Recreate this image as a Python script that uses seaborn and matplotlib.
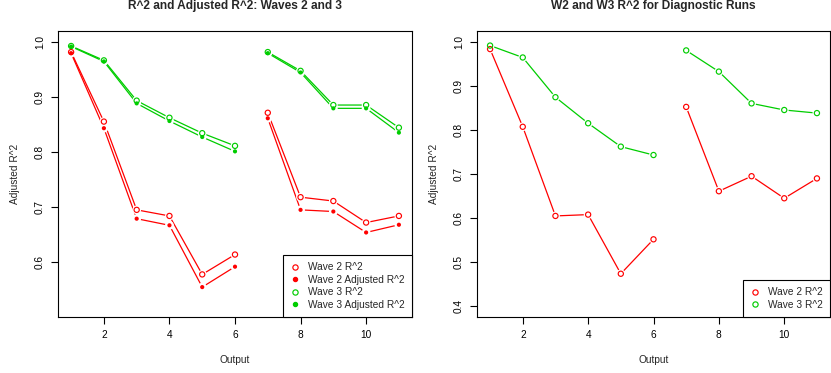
import matplotlib
matplotlib.use("Agg")
import matplotlib.pyplot as plt
import pandas as pd
import seaborn as sns
from matplotlib.lines import Line2D

# Data
outputs = [1, 2, 3, 4, 5, 6, 7, 8, 9, 10, 11]
segments = [1, 1, 1, 1, 1, 1, 2, 2, 2, 2, 2]

# left panel: R^2 and adjusted R^2
w2_r2 = [0.981, 0.855, 0.695, 0.684, 0.578, 0.614, 0.871, 0.718, 0.711, 0.672, 0.684]
w2_adj = [0.979, 0.843, 0.679, 0.667, 0.555, 0.592, 0.861, 0.695, 0.692, 0.654, 0.668]
w3_r2 = [0.992, 0.966, 0.893, 0.862, 0.834, 0.811, 0.981, 0.947, 0.885, 0.885, 0.844]
w3_adj = [0.991, 0.964, 0.888, 0.856, 0.827, 0.801, 0.979, 0.944, 0.879, 0.879, 0.835]

# right panel: diagnostic runs
diag_w2_r2 = [0.983, 0.807, 0.605, 0.608, 0.474, 0.552, 0.852, 0.661, 0.695, 0.645, 0.690]
diag_w3_r2 = [0.991, 0.964, 0.874, 0.815, 0.762, 0.743, 0.980, 0.932, 0.860, 0.845, 0.838]

RED = "#FF0000"
GREEN = "#00CD00"

sns.set_style("white")
plt.rcParams["font.family"] = ["Liberation Sans", "DejaVu Sans"]
plt.rcParams["axes.linewidth"] = 0.8
plt.rcParams["xtick.major.size"] = 5
plt.rcParams["ytick.major.size"] = 5
plt.rcParams["xtick.major.width"] = 0.8
plt.rcParams["ytick.major.width"] = 0.8

FS = 7.3
W, H = 831, 373


def draw_series(ax, values, color):
    df = pd.DataFrame({"output": outputs, "value": values, "segment": segments})
    sns.lineplot(data=df, x="output", y="value", units="segment", estimator=None,
                 color=color, linewidth=0.9, ax=ax, legend=False, zorder=2)
    return df


def draw_halo(ax, df):
    # white halo to mimic R's type="b" gaps
    sns.scatterplot(data=df, x="output", y="value", color="white", s=40,
                    edgecolor="none", ax=ax, legend=False, zorder=3)


def draw_marks(ax, df, color, filled):
    if filled:
        sns.scatterplot(data=df, x="output", y="value", color=color, s=9,
                        edgecolor="none", ax=ax, legend=False, zorder=4)
    else:
        sns.scatterplot(data=df, x="output", y="value", color=color, s=14,
                        facecolor="none", edgecolor=color, linewidth=0.85,
                        ax=ax, legend=False, zorder=4)


def style_axes(ax, ylim, yticks, title, px_width):
    ax.set_xlim(0.6, 11.4)
    ax.set_ylim(*ylim)
    ax.set_xticks([2, 4, 6, 8, 10])
    ax.set_yticks(yticks)
    ax.set_yticklabels([f"{t:.1f}" for t in yticks], rotation=90, va="center")
    ax.tick_params(axis="both", labelsize=FS, colors="black", pad=4.5,
                   direction="out", bottom=True, left=True)
    for sp in ax.spines.values():
        sp.set_visible(True)
        sp.set_color("black")
    ax.set_xlabel("")
    ax.set_ylabel("")
    h = 286
    ax.text(0.5, -43 / h, "Output", transform=ax.transAxes, ha="center",
            va="center", fontsize=FS)
    ax.text(-43 / px_width, 0.5, "Adjusted R^2", transform=ax.transAxes,
            ha="center", va="center", rotation=90, fontsize=FS)
    ax.text(0.5, 1 + 25 / h, title, transform=ax.transAxes, ha="center",
            va="center", fontsize=8.6, fontweight="bold")


def legend(ax, entries):
    handles = []
    for label, color, filled in entries:
        if filled:
            h = Line2D([], [], linestyle="none", marker="o", markersize=2.9,
                       markerfacecolor=color, markeredgecolor=color)
        else:
            h = Line2D([], [], linestyle="none", marker="o", markersize=3.8,
                       markerfacecolor="none", markeredgecolor=color,
                       markeredgewidth=0.85)
        handles.append(h)
    leg = ax.legend(handles, [e[0] for e in entries], loc="lower right",
                    fontsize=FS, frameon=True, fancybox=False, framealpha=1,
                    edgecolor="black", borderaxespad=0, handlelength=1.0,
                    handletextpad=0.8, labelspacing=0.25, borderpad=0.7)
    leg.get_frame().set_linewidth(0.8)


fig = plt.figure(figsize=(W / 100, H / 100), dpi=100)

# left panel
ax1 = fig.add_axes([58 / W, (H - 317) / H, 354 / W, 286 / H])
left = [(w2_r2, RED, False), (w2_adj, RED, True), (w3_r2, GREEN, False), (w3_adj, GREEN, True)]
frames = [draw_series(ax1, v, c) for v, c, f in left]
for d in frames:
    draw_halo(ax1, d)
for d, (v, c, f) in zip(frames, left):
    draw_marks(ax1, d, c, f)
style_axes(ax1, (0.5008, 1.0192), [0.6, 0.7, 0.8, 0.9, 1.0],
           "R^2 and Adjusted R^2: Waves 2 and 3", 354)
legend(ax1, [("Wave 2 R^2", RED, False), ("Wave 2 Adjusted R^2", RED, True),
             ("Wave 3 R^2", GREEN, False), ("Wave 3 Adjusted R^2", GREEN, True)])

# right panel
ax2 = fig.add_axes([477 / W, (H - 317) / H, 353 / W, 286 / H])
right = [(diag_w2_r2, RED, False), (diag_w3_r2, GREEN, False)]
frames = [draw_series(ax2, v, c) for v, c, f in right]
for d in frames:
    draw_halo(ax2, d)
for d, (v, c, f) in zip(frames, right):
    draw_marks(ax2, d, c, f)
style_axes(ax2, (0.376, 1.024), [0.4, 0.5, 0.6, 0.7, 0.8, 0.9, 1.0],
           "W2 and W3 R^2 for Diagnostic Runs", 353)
legend(ax2, [("Wave 2 R^2", RED, False), ("Wave 3 R^2", GREEN, False)])

fig.savefig("out.png", dpi=100, facecolor="white")
